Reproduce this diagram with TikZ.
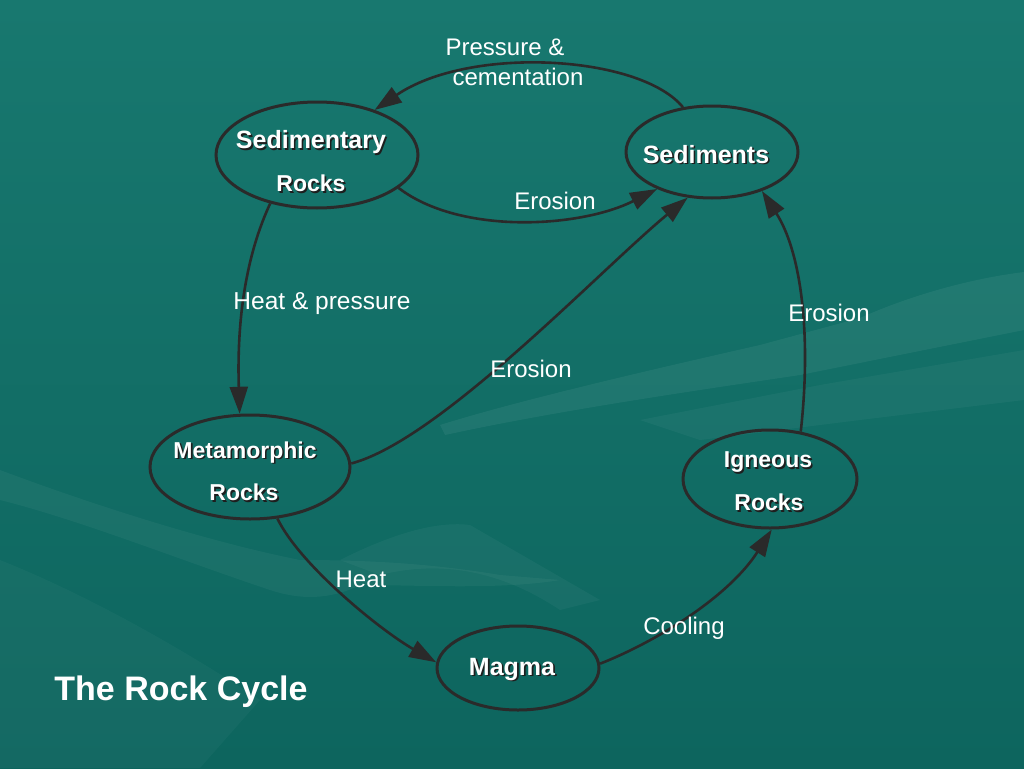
\documentclass[tikz,border=0pt]{standalone}
\usepackage{fontspec}
\setmainfont{Liberation Sans}
\usetikzlibrary{shapes.geometric,arrows.meta}
\definecolor{bgtop}{HTML}{18786F}
\definecolor{bgbot}{HTML}{0D655E}
\definecolor{linec}{HTML}{2A2A2A}
\definecolor{shadowc}{HTML}{1E1E1E}
\newcommand\shd[1]{\leavevmode\rlap{\kern1.6pt\raisebox{-1.6pt}{\color{shadowc}#1}}#1}
\tikzset{
  rock/.style={ellipse, draw=linec, line width=3pt, inner sep=0pt},
  rocktxt/.style={text=white, font=\bfseries\fontsize{23}{27}\selectfont, inner sep=0pt},
  lbl/.style={text=white, font=\fontsize{24}{28}\selectfont, inner sep=0pt, align=center},
  arr/.style={draw=linec, line width=2.6pt, -{Triangle[length=27pt,width=18pt]}},
  swoosh/.style={fill=white, fill opacity=0.06, draw=none}
}
\begin{document}
\begin{tikzpicture}[x=1pt,y=-1pt]
\useasboundingbox (0,0) rectangle (1024,768);
\shade[top color=bgtop, bottom color=bgbot] (0,0) rectangle (1024,768);
% faint background artwork
\fill[swoosh] (1024,272) .. controls (960,280) and (900,300) .. (860,318) -- (760,345) .. controls (650,370) and (520,400) .. (440,425) -- (445,435) .. controls (560,410) and (700,390) .. (800,375) -- (1024,330) -- cycle;
\fill[swoosh, fill opacity=0.04] (640,420) -- (820,385) -- (1024,350) -- (1024,400) -- (860,420) -- (700,440) -- cycle;
\fill[swoosh, fill opacity=0.045] (0,470) .. controls (80,500) and (200,540) .. (300,560) .. controls (380,560) and (440,565) .. (500,575) -- (560,580) .. controls (500,590) and (420,585) .. (360,585) .. controls (330,600) and (300,600) .. (270,590) .. controls (180,560) and (80,520) .. (0,500) -- cycle;
\fill[swoosh, fill opacity=0.04] (340,560) .. controls (380,540) and (430,520) .. (470,525) -- (600,600) -- (560,610) .. controls (500,570) and (440,560) .. (380,575) -- cycle;
\fill[swoosh, fill opacity=0.03] (0,560) .. controls (100,600) and (200,660) .. (260,700) -- (200,768) -- (0,768) -- cycle;

% ellipses
\node[rock, minimum width=202pt, minimum height=106pt] (sedr) at (317,155) {};
\node[rock, minimum width=172pt, minimum height=92pt] (sed) at (712,152) {};
\node[rock, minimum width=200pt, minimum height=104pt] (meta) at (250,467) {};
\node[rock, minimum width=174pt, minimum height=98pt] (ign) at (770,479) {};
\node[rock, minimum width=162pt, minimum height=84pt] (mag) at (518,668) {};

% node texts
\node[rocktxt, font=\bfseries\fontsize{25}{29}\selectfont] (sedrA) at (311,143) {\shd{Sedimentary}};
\node[rocktxt] (sedrB) at (311,184) {\shd{Rocks}};
\node[rocktxt, font=\bfseries\fontsize{25}{29}\selectfont] (sedA) at (706,155) {\shd{Sediments}};
\node[rocktxt] (metaA) at (245,453) {\shd{Metamorphic}};
\node[rocktxt] (metaB) at (244,493) {\shd{Rocks}};
\node[rocktxt] (ignA) at (768,463) {\shd{Igneous}};
\node[rocktxt] (ignB) at (769,503) {\shd{Rocks}};
\node[rocktxt, font=\bfseries\fontsize{25}{29}\selectfont] (magA) at (512,670) {\shd{Magma}};
\node[text=white, font=\bfseries\fontsize{34}{40}\selectfont, inner sep=0pt] (title) at (181,692) {The Rock Cycle};

% connectors
\draw[arr] (sed.123) .. controls (640,55) and (470,45) .. (sedr.38);
\draw[arr] (sedr.-22) .. controls (460,235) and (580,228) .. (sed.214);
\draw[arr] (sedr.226) .. controls (243,262) and (237,330) .. (meta.101);
\draw[arr] (meta.2) .. controls (440,440) and (600,270) .. (sed.242);
\draw[arr] (ign.57) .. controls (812,330) and (800,250) .. (sed.322);
\draw[arr] (meta.298) .. controls (300,565) and (380,630) .. (mag.176);
\draw[arr] (mag.3) .. controls (660,640) and (730,595) .. (ign.272);

% labels
\node[lbl] (l1) at (505,47) {Pressure \&};
\node[lbl] (l2) at (518,77) {cementation};
\node[lbl] (l3) at (555,201) {Erosion};
\node[lbl, font=\fontsize{24.5}{28}\selectfont] (l4) at (322,304) {Heat \& pressure};
\node[lbl] (l5) at (531,369) {Erosion};
\node[lbl] (l6) at (829,313) {Erosion};
\node[lbl] (l7) at (361,579) {Heat};
\node[lbl] (l8) at (684,628) {Cooling};
\end{tikzpicture}
\end{document}
